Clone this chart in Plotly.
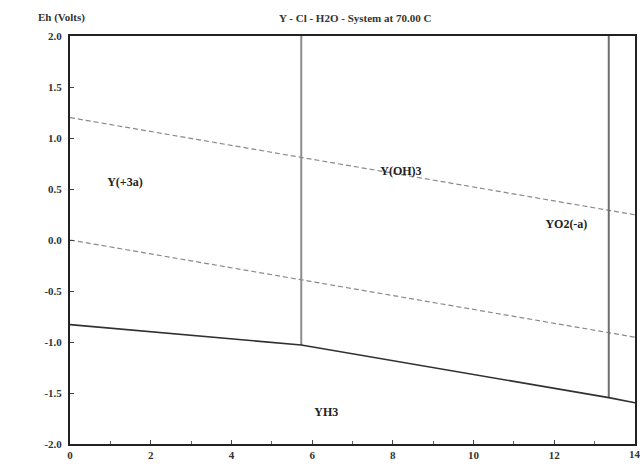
import plotly.graph_objects as go

# Water stability lines (dashed)
water_ph = [0, 14]
o2_eh = [1.20, 0.247]
h2_eh = [0.00, -0.953]

# YH3 boundary (solid)
yh3_ph = [0, 5.73, 13.35, 14]
yh3_eh = [-0.83, -1.03, -1.545, -1.595]

# Vertical boundaries
v1_ph = [5.73, 5.73]
v1_eh = [2.0, -1.03]
v2_ph = [13.35, 13.35]
v2_eh = [2.0, -1.545]

# Region labels
label_text = ["Y(+3a)", "Y(OH)3", "YO2(-a)", "YH3"]
label_ph = [1.36, 8.2, 12.3, 6.35]
label_eh = [0.56, 0.67, 0.15, -1.7]

x_ticks = [0, 2, 4, 6, 8, 10, 12, 14]
y_ticks = [2.0, 1.5, 1.0, 0.5, 0.0, -0.5, -1.0, -1.5, -2.0]

font_fam = "Liberation Serif"

fig = go.Figure()
fig.add_trace(go.Scatter(x=water_ph, y=o2_eh, mode="lines",
                         line=dict(color="#8a8a8a", width=1.2, dash="5px,3px"), showlegend=False))
fig.add_trace(go.Scatter(x=water_ph, y=h2_eh, mode="lines",
                         line=dict(color="#8a8a8a", width=1.2, dash="5px,3px"), showlegend=False))
fig.add_trace(go.Scatter(x=v1_ph, y=v1_eh, mode="lines",
                         line=dict(color="#8c8c8c", width=2), showlegend=False))
fig.add_trace(go.Scatter(x=v2_ph, y=v2_eh, mode="lines",
                         line=dict(color="#6e6e6e", width=2), showlegend=False))
fig.add_trace(go.Scatter(x=yh3_ph, y=yh3_eh, mode="lines",
                         line=dict(color="#303030", width=1.6), showlegend=False))
fig.add_trace(go.Scatter(x=label_ph, y=label_eh, mode="text",
                         text=[f"<b>{t}</b>" for t in label_text],
                         textfont=dict(family=font_fam, size=12, color="#222"),
                         textposition="middle center", showlegend=False))

fig.update_layout(
    width=640, height=467,
    margin=dict(l=70, r=3, t=36, b=23),
    paper_bgcolor="white", plot_bgcolor="white",
    font=dict(family=font_fam, size=11, color="#333"),
)
fig.add_annotation(text="<b>Y - Cl - H2O - System at 70.00 C</b>", x=0.505, y=1.0, xref="paper", yref="paper",
                   yanchor="bottom", yshift=10, showarrow=False,
                   font=dict(size=11, family=font_fam, color="#333"))
fig.add_annotation(text="<b>Eh (Volts)</b>", x=-0.06, y=1.0, xref="paper", yref="paper",
                   yanchor="bottom", yshift=10, showarrow=False,
                   font=dict(size=11, family=font_fam, color="#333"))
# last x tick label (would otherwise be hidden past the page edge)
fig.add_annotation(text=f"<b>{x_ticks[-1]}</b>", x=x_ticks[-1], y=0, xref="x", yref="paper",
                   yanchor="top", yshift=-2, showarrow=False,
                   font=dict(size=11, family=font_fam, color="#333"))

fig.update_xaxes(range=[0, 14], tickvals=x_ticks[:-1], ticktext=[f"<b>{v}</b>" for v in x_ticks[:-1]],
                 ticks="inside", ticklen=4, tickcolor="#444",
                 minor=dict(dtick=1, ticks="inside", ticklen=3, tickcolor="#666"),
                 showline=True, linecolor="#222", linewidth=2, mirror=True,
                 showgrid=False, zeroline=False,
                 tickfont=dict(family=font_fam, size=11, color="#333"))
fig.update_yaxes(range=[-2, 2], tickvals=y_ticks, ticktext=[f"<b>{v:.1f}</b>" for v in y_ticks],
                 ticks="inside", ticklen=4, tickcolor="#444", ticklabelstandoff=4,
                 showline=True, linecolor="#222", linewidth=2, mirror=True,
                 showgrid=False, zeroline=False,
                 tickfont=dict(family=font_fam, size=11, color="#333"))

fig.write_html("out.html")
